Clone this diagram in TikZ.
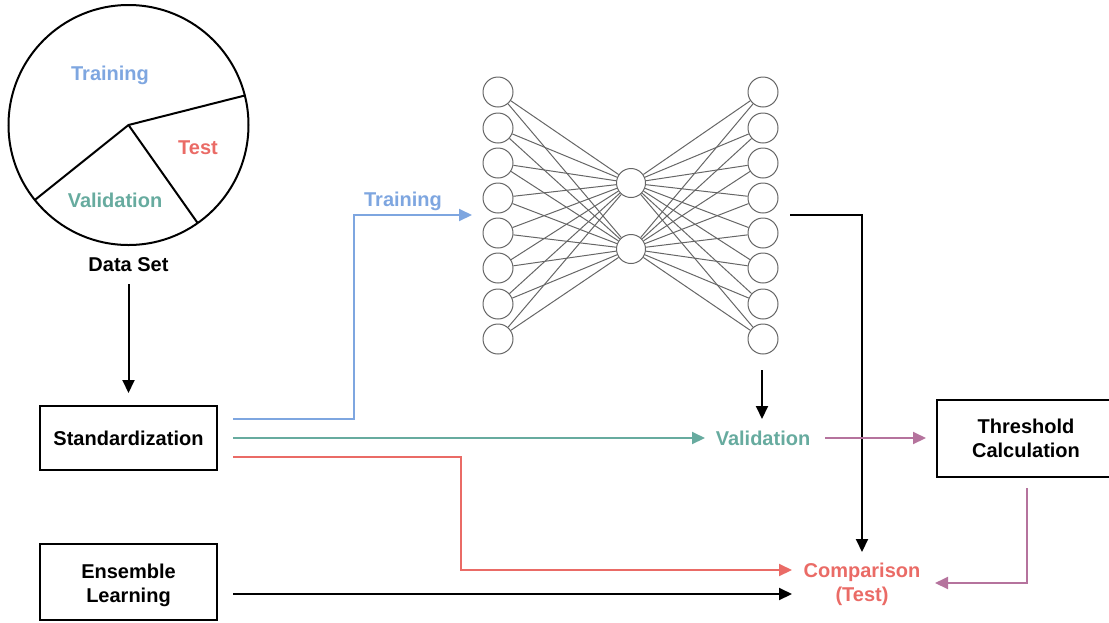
\documentclass[tikz,border=0pt]{standalone}
\usepackage{fontspec}
\setmainfont{Liberation Sans}
\usetikzlibrary{arrows.meta}
\definecolor{cblue}{HTML}{7EA6E0}
\definecolor{cgreen}{HTML}{67AB9F}
\definecolor{cred}{HTML}{EA6B66}
\definecolor{cpurple}{HTML}{B5739D}
\definecolor{nngray}{HTML}{666666}
\begin{document}
\begin{tikzpicture}[x=1pt,y=-1pt,
  every node/.style={font=\fontsize{20}{23.5}\selectfont\bfseries},
  box/.style={draw, line width=2pt, minimum width=177pt, align=center, inner sep=0pt},
  neuron/.style={circle, draw=nngray, line width=1pt, minimum size=30pt, inner sep=0pt, fill=white},
  syn/.style={draw=nngray, line width=1pt},
  arr/.style={line width=2pt, -{Triangle[length=13pt,width=12pt]}},
  lbl/.style={anchor=base, inner sep=0pt},
  txt/.style={inner sep=0pt, align=center}]
\useasboundingbox (0,0) rectangle (1109,622);

% pie chart
\coordinate (pc) at (128.5,125);
\coordinate (p1) at (244.8,95.5);
\coordinate (p2) at (34.8,200);
\coordinate (p3) at (197.7,223.1);
\draw[line width=2pt] (pc) circle[radius=120pt];
\draw[line width=2pt] (p1) -- (pc) -- (p2);
\draw[line width=2pt] (pc) -- (p3);
\node[lbl, text=cblue] (ptrain) at (110,80) {Training};
\node[lbl, text=cred] (ptest) at (198,154) {Test};
\node[lbl, text=cgreen] (pval) at (115,207) {Validation};
\node[lbl] (dataset) at (128.5,271) {Data Set};

% boxes
\node[box, minimum height=64pt] (std) at (128.5,438) {Standardization};
\node[box, minimum height=76pt] (ens) at (128.5,582) {};
\node[txt] (enstxt) at (128.5,585.6) {Ensemble\\Learning};
\node[box, minimum width=178pt, minimum height=77pt] (thr) at (1026,438.5) {Threshold\\Calculation};

% neural network
\foreach \i/\y in {1/92,2/128,3/163,4/198,5/233,6/268,7/304,8/339} {
  \node[neuron] (l\i) at (498,\y) {};
  \node[neuron] (r\i) at (763,\y) {};
}
\node[neuron, minimum size=29pt] (m1) at (631,183) {};
\node[neuron, minimum size=29pt] (m2) at (631,249) {};
\foreach \i in {1,...,8} {
  \draw[syn] (l\i) -- (m1);
  \draw[syn] (l\i) -- (m2);
  \draw[syn] (m1) -- (r\i);
  \draw[syn] (m2) -- (r\i);
}

% labels
\node[lbl, text=cblue] (trainlbl) at (403,206) {Training};
\node[lbl, text=cgreen] (val) at (763,445) {Validation};
\node[txt, text=cred] (cmp) at (862,584.5) {Comparison\\(Test)};

% connector end points
\coordinate (ds1) at (128.5,284);
\coordinate (ds2) at (128.5,393);
\coordinate (sb) at (233,419);
\coordinate (sg) at (233,438);
\coordinate (sr) at (233,457);
\coordinate (se) at (233,594);
\coordinate (nnin) at (472,215);
\coordinate (valin) at (705,438);
\coordinate (cmpred) at (792,570);
\coordinate (cmpblk) at (792,594);
\coordinate (nnout) at (790,215);
\coordinate (cmptop) at (862,552);
\coordinate (nnbot) at (762,370);
\coordinate (valtop) at (762,419);
\coordinate (valout) at (825,438);
\coordinate (thrin) at (926,438);
\coordinate (throut) at (1027,488);
\coordinate (cmpright) at (935,583);

% connectors
\draw[arr] (ds1) -- (ds2);
\draw[arr, cblue] (sb) -- (354,419) |- (nnin);
\draw[arr, cgreen] (sg) -- (valin);
\draw[arr, cred] (sr) -- (461,457) |- (cmpred);
\draw[arr] (se) -- (cmpblk);
\draw[arr] (nnout) -| (cmptop);
\draw[arr] (nnbot) -- (valtop);
\draw[arr, cpurple] (valout) -- (thrin);
\draw[arr, cpurple] (throut) |- (cmpright);
\end{tikzpicture}
\end{document}
